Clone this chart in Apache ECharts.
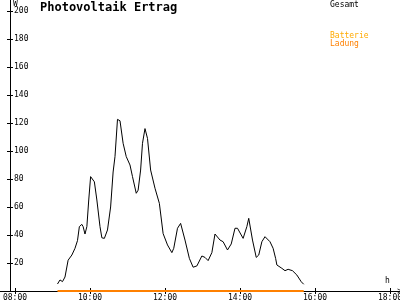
<!DOCTYPE html>
<html>
<head>
<meta charset="utf-8">
<script src="https://cdn.jsdelivr.net/npm/echarts@6/dist/echarts.min.js"></script>
<style>html,body{margin:0;padding:0;background:#fff}#c{width:400px;height:300px}</style>
</head>
<body>
<div id="c"></div>
<script>
var times = ['09:08','09:12','09:16','09:20','09:25','09:31','09:36','09:40','09:43','09:47','09:49','09:52','09:55','09:58','10:01','10:07','10:11','10:16','10:19','10:23','10:28','10:33','10:37','10:40','10:44','10:48','10:53','10:58','11:04','11:08','11:14','11:17','11:21','11:24','11:28','11:32','11:37','11:44','11:51','11:57','12:04','12:11','12:14','12:20','12:25','12:32','12:39','12:45','12:51','12:59','13:04','13:09','13:15','13:20','13:28','13:33','13:40','13:46','13:52','13:56','14:05','14:11','14:14','14:20','14:26','14:30','14:35','14:40','14:48','14:53','14:57','14:59','15:07','15:12','15:17','15:24','15:31','15:38','15:42'];
var gesamt = [5,7.9,6.7,10,22,25.7,30.5,36,46,47.6,46,40.7,46,65,81.7,78,65,46,38,37.6,43.6,60,85,96,122.6,121.6,105.5,96,90,81.7,69.8,72,86.4,105.5,116,109,86.4,73.4,62.6,41,32.9,27.4,30.5,44.8,48.3,36.4,23.3,17,17.9,25,24,21.7,27.4,40.7,36.4,35.2,29.3,33.6,44.8,44.8,37.6,46,51.9,36.4,24,25.7,35.2,38.8,35.2,30.5,23.3,18.6,16.2,14.5,15.5,14.5,11.4,6.6,4.8];
var ladungTimes = ['09:08','15:42'];
var ladung = [0,0];
var xTicks = [8,10,12,14,16,18];
var yTicks = [20,40,60,80,100,120,140,160,180,200];

function toH(s){var p=s.split(':');return +p[0]+(+p[1])/60;}
function pad(n){return (n<10?'0':'')+n+':00';}
var font='DejaVu Sans Mono';
var chev='path://M0,10 L5,0 L10,10 L8.6,10 L5,2.8 L1.4,10 Z';
var bar='path://M0,0 L1,0 L1,10 L0,10 Z';

var chart = echarts.init(document.getElementById('c'), null, {renderer:'canvas'});
chart.setOption({
  animation:false,
  backgroundColor:'#fff',
  title:[
    {text:'Photovoltaik Ertrag',left:40,top:2,padding:0,textStyle:{fontFamily:font,fontSize:12,fontWeight:'bold',color:'#000'}},
    {text:'Gesamt',left:330,top:1,padding:0,textStyle:{fontFamily:font,fontSize:8,fontWeight:'normal',color:'#000'}},
    {text:'Batterie',left:330,top:32,padding:0,textStyle:{fontFamily:font,fontSize:8,fontWeight:'normal',color:'#FFAA00'}},
    {text:'Ladung',left:330,top:40,padding:0,textStyle:{fontFamily:font,fontSize:8,fontWeight:'normal',color:'#FF8000'}},
    {text:'W',left:13,top:0,padding:0,textStyle:{fontFamily:font,fontSize:8,fontWeight:'normal',color:'#000'}},
    {text:'h',left:385,top:277,padding:0,textStyle:{fontFamily:font,fontSize:8,fontWeight:'normal',color:'#000'}}
  ],
  grid:{left:0,right:0,top:0,bottom:9,containLabel:false,outerBoundsMode:'none'},
  xAxis:[
    {type:'value',min:7.6,max:18.2667,position:'bottom',
     axisLine:{show:true,onZero:false,symbol:['none',chev],symbolSize:[7,5],lineStyle:{color:'#000',width:1}},
     axisTick:{show:true,inside:true,length:3,customValues:xTicks,lineStyle:{color:'#000'}},
     axisLabel:{show:true,customValues:xTicks,margin:3,fontFamily:font,fontSize:8,color:'#000',formatter:function(v){return pad(Math.round(v));}},
     splitLine:{show:false}},
    {type:'value',min:7.6,max:18.2667,position:'bottom',
     axisLine:{show:false,onZero:false},
     axisTick:{show:true,inside:false,length:3,customValues:xTicks,lineStyle:{color:'#000'}},
     axisLabel:{show:false},splitLine:{show:false}}
  ],
  yAxis:[
    {type:'value',min:0,max:207.857,position:'left',offset:-10,
     axisLine:{show:true,onZero:false,symbol:[bar,chev],symbolSize:[[1,7],[7,5]],symbolOffset:[-3.5,0],lineStyle:{color:'#000',width:1}},
     axisTick:{show:true,inside:true,length:3,customValues:yTicks,lineStyle:{color:'#000'}},
     axisLabel:{show:true,inside:true,customValues:yTicks,margin:4,fontFamily:font,fontSize:8,color:'#000'},
     splitLine:{show:false}},
    {type:'value',min:0,max:207.857,position:'left',offset:-10,
     axisLine:{show:false,onZero:false},
     axisTick:{show:true,inside:false,length:3,customValues:yTicks,lineStyle:{color:'#000'}},
     axisLabel:{show:false},splitLine:{show:false}}
  ],
  series:[
    {name:'Gesamt',type:'line',xAxisIndex:0,yAxisIndex:0,showSymbol:false,symbol:'none',
     lineStyle:{color:'#000',width:1},data:times.map(function(t,i){return [toH(t),gesamt[i]];}),z:3},
    {name:'Ladung',type:'line',xAxisIndex:0,yAxisIndex:0,showSymbol:false,symbol:'none',
     lineStyle:{color:'#FF8000',width:2},data:ladungTimes.map(function(t,i){return [toH(t),ladung[i]];}),z:4}
  ]
});
</script>
</body>
</html>
